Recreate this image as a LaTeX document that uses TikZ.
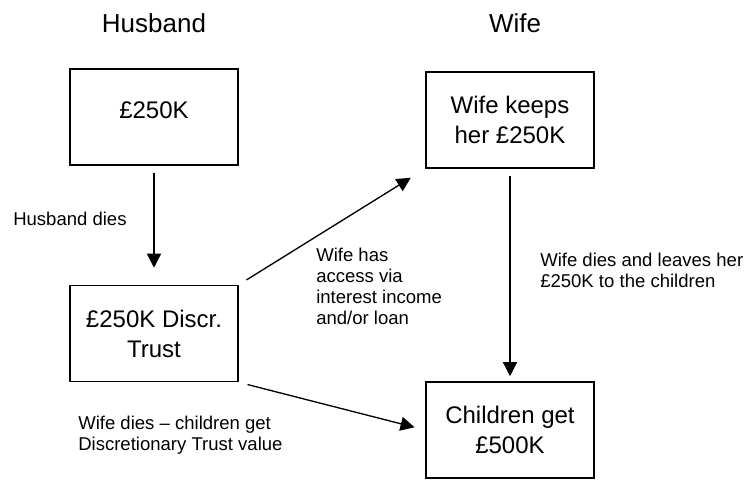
\documentclass[tikz,border=0pt]{standalone}
\usepackage{fontspec}
\setmainfont{Liberation Sans}
\usetikzlibrary{
arrows.meta
}

\begin{document}
\begin{tikzpicture}
[x=0.75pt, y=-0.75pt,
block_normal/.style ={ rectangle, draw, fill=white, line width=1.2pt, align=center, minimum width=126pt, minimum height=72pt, inner sep=0pt, font=\fontsize{18}{22.5}\selectfont},
block_head/.style ={ inner sep=0pt, font=\fontsize{19.5}{23}\selectfont},
block_label/.style ={ anchor=west, align=left, inner sep=0pt, font=\fontsize{13.9}{15.75}\selectfont},
line_outer/.style ={draw, line width=1pt, -{Triangle[length=10.5pt,width=10.5pt]}}
]
\useasboundingbox (0,0) rectangle (745,480);

%Kopfzeile
\node [block_head] (head_husband) at (154,23) {Husband};
\node [block_head] (head_wife) at (515,23) {Wife};

%Bloecke
\node [block_normal] (money_husband) at (154,117) {\raisebox{5.25pt}[\height][\depth]{\pounds250K}};
\node [block_normal] (trust) at (154,333.5) {\pounds250K Discr.\\Trust};
\node [block_normal] (money_wife) at (510,120) {Wife keeps\\her \pounds250K};
\node [block_normal] (children) at (510,430) {Children get\\\pounds500K};

%Beschriftungen
\node [block_label] (label_dies) at (13,219) {Husband dies};
\node [block_label] (label_access) at (316,286) {Wife has\\access via\\interest income\\and/or loan};
\node [block_label] (label_leaves) at (540,270) {Wife dies and leaves her\\\pounds250K to the children};
\node [block_label] (label_trust) at (78,435) {Wife dies \textendash{} children get\\Discretionary Trust value};

%Pfeile
 \draw [line_outer, shorten <=5.25pt, shorten >=12.75pt](money_husband) to [bend left=0] (trust);
 \draw [line_outer, shorten <=6.75pt, shorten >=12.75pt](trust.north east) to [bend left=0] (money_wife.south west);
 \draw [line_outer, shorten <=5.25pt, shorten >=3.75pt](money_wife) to [bend left=0] (children);
 \draw [line_outer, shorten <=6.75pt, shorten >=8.25pt](trust.south east) to [bend left=0] (children.west);

\end{tikzpicture}
\end{document}
